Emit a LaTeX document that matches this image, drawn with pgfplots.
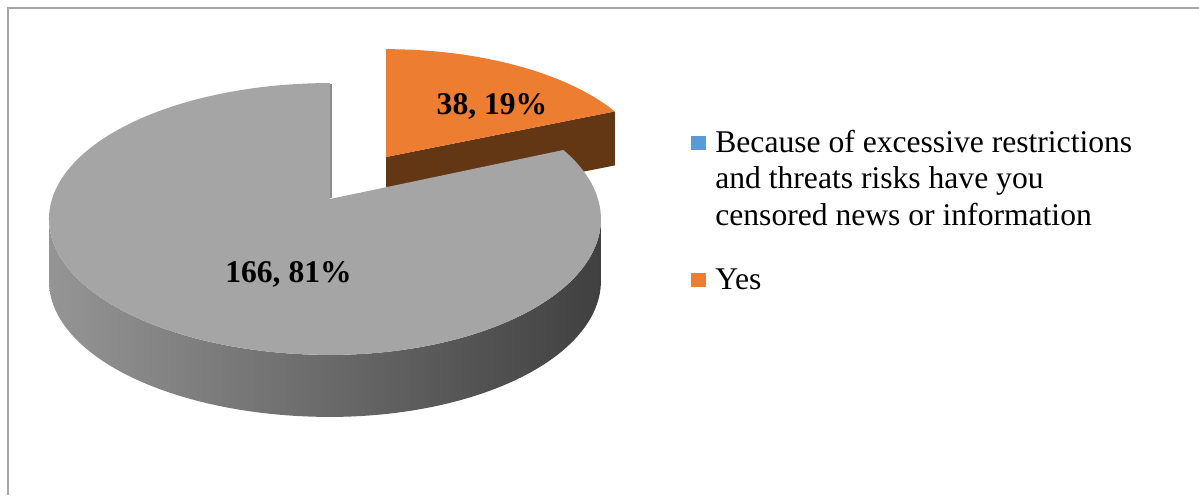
\documentclass[border=0pt]{standalone}
\usepackage{fontspec}
\setmainfont{Liberation Serif}
\usepackage{pgfplots}
\usepackage{pgfplotstable}
\pgfplotsset{compat=1.18}
\definecolor{pieGray}{HTML}{A5A5A5}
\definecolor{pieOrange}{HTML}{ED7D31}
\definecolor{pieBrown}{RGB}{99,54,20}
\definecolor{legBlue}{HTML}{5B9BD5}
\definecolor{rimLeft}{HTML}{959595}
\definecolor{rimMid}{HTML}{575757}
\definecolor{rimRight}{HTML}{404040}
\definecolor{frameGray}{HTML}{A6A6A6}
\definecolor{cutGray}{HTML}{8C8C8C}

\pgfplotstableread{
slice value
Because 166
Yes 38
}\piedata
\pgfplotstablegetelem{0}{value}\of\piedata \let\vBecause\pgfplotsretval
\pgfplotstablegetelem{1}{value}\of\piedata \let\vYes\pgfplotsretval
\pgfmathsetmacro\angYes{360*\vYes/(\vBecause+\vYes)}
\pgfmathsetmacro\silA{acos(-0.147)}
\pgfmathsetmacro\silB{360-\silA}

\begin{document}%
\begin{tikzpicture}[declare function={
  gx(\t)=330+ifthenelse(sin(\t)>0,268,278)*sin(\t)/(1+0.147*cos(\t));
  gy(\t)=199-133*cos(\t)/(1+0.147*cos(\t));
  ox(\t)=386+0.98*(gx(\t)-330);
  oy(\t)=157+0.93*(gy(\t)-199);
  rimt(\s)=ifthenelse(\s<=1,\silA+\s*(\silB-\silA),\silB-(\s-1)*(\silB-\silA));
}]
\begin{axis}[
  width=599.5pt, height=247.5pt, scale only axis,
  xmin=0, xmax=1199, ymin=0, ymax=495, y dir=reverse,
  hide axis, clip=true,
  legend image code/.code={\fill (0pt,1pt) rectangle (7.5pt,8pt);},
  legend style={at={(0.5763,0.7384)}, anchor=north west, draw=none, fill=none,
    inner sep=0pt, column sep=4.5pt, row sep=21.5pt,
    font=\fontsize{15.8}{18.3}\selectfont,
    cells={anchor=base west},
    nodes={inner sep=0pt, text depth=, text height=}},
]
% keep the whole chart area as the picture's extent
\path (rel axis cs:0,0) rectangle (rel axis cs:1,1);
% orange slice (exploded, behind)
\fill[pieBrown] (axis cs:386,157) -- (axis cs:{ox(\angYes)},{oy(\angYes)})
  -- (axis cs:{ox(\angYes)},{oy(\angYes)+54}) -- (axis cs:386,211) -- cycle;
\addplot[forget plot, fill=pieOrange, draw=none, domain=0:\angYes, samples=60]
  ({ox(x)},{oy(x)}) -- (axis cs:386,157) -- cycle;
% gray slice: side rim
\addplot[forget plot, draw=none, left color=rimLeft, middle color=rimMid, right color=rimRight,
  domain=0:2, samples=202]
  ({gx(rimt(x))},{gy(rimt(x))+ifthenelse(x<=1,0,62)}) -- cycle;
% gray slice: top
\addplot[forget plot, fill=pieGray, draw=none, domain=\angYes:360, samples=150]
  ({gx(x)},{gy(x)}) -- (axis cs:330,199) -- cycle;
\draw[cutGray, line width=1pt] (axis cs:331,198) -- (axis cs:331,84);
% labels
\node[anchor=base, font=\bfseries\fontsize{15.8}{18}\selectfont] at (axis cs:492,114) {38, 19\%};
\node[anchor=base, font=\bfseries\fontsize{15.8}{18}\selectfont] at (axis cs:288.5,282) {166, 81\%};
% frame (kept inside the picture)
\draw[frameGray, line width=1pt] (axis cs:7.5,495) -- (axis cs:7.5,7.5) -- (axis cs:1199,7.5);
% legend
\addlegendimage{fill=legBlue, draw=none}
\addlegendentry{\vtop{\hbox{Because of excessive restrictions}\hbox{and threats risks have you}\hbox{censored news or information}}}
\addlegendimage{fill=pieOrange, draw=none}
\addlegendentry{Yes}
\end{axis}
\end{tikzpicture}%
\end{document}
